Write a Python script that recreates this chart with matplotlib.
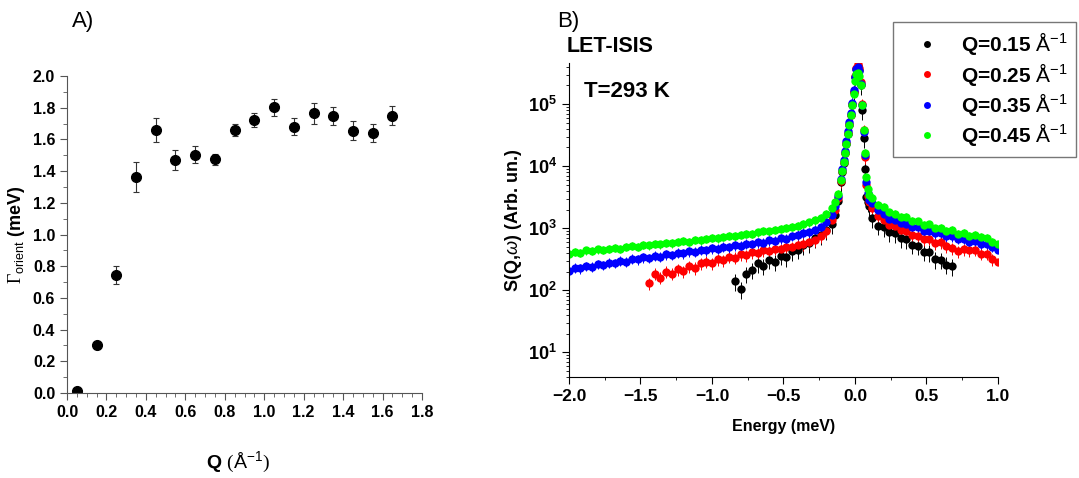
import numpy as np
import matplotlib
matplotlib.use("Agg")
import matplotlib.pyplot as plt
from matplotlib.ticker import MultipleLocator, LogLocator, NullFormatter
from matplotlib.lines import Line2D

plt.rcParams['font.family'] = ['Liberation Sans', 'DejaVu Sans']
plt.rcParams['mathtext.fontset'] = 'custom'
plt.rcParams['mathtext.rm'] = 'Liberation Serif'
plt.rcParams['mathtext.sf'] = 'Liberation Sans'
plt.rcParams['mathtext.bf'] = 'Liberation Sans:bold'
plt.rcParams['mathtext.it'] = 'Liberation Sans:italic'

# ---- panel A: orientational linewidth vs Q ----
q_vals = [0.05, 0.15, 0.25, 0.35, 0.45, 0.55, 0.65, 0.75, 0.85,
          0.95, 1.05, 1.15, 1.25, 1.35, 1.45, 1.55, 1.65]
gamma_orient = [0.01, 0.30, 0.744, 1.363, 1.66, 1.47, 1.503, 1.474, 1.66,
                1.723, 1.803, 1.681, 1.765, 1.748, 1.654, 1.639, 1.75]
gamma_err = [0.01, 0.02, 0.055, 0.092, 0.075, 0.06, 0.055, 0.034, 0.037,
             0.046, 0.055, 0.052, 0.065, 0.057, 0.06, 0.058, 0.062]

# ---- panel B: S(Q,w) spectra, LET-ISIS, T=293 K ----
e_left = [-2.00, -1.96, -1.92, -1.88, -1.84, -1.80, -1.76, -1.72, -1.68, -1.64,
          -1.60, -1.56, -1.52, -1.48, -1.44, -1.40, -1.36, -1.32, -1.28, -1.24,
          -1.20, -1.16, -1.12, -1.08, -1.04, -1.00, -0.96, -0.92, -0.88, -0.84,
          -0.80, -0.76, -0.72, -0.68, -0.64, -0.60, -0.56, -0.52, -0.48, -0.44,
          -0.40, -0.36, -0.32, -0.28, -0.24, -0.20, -0.16]
e_peak = [-0.14, -0.12, -0.10, -0.09, -0.08, -0.07, -0.06, -0.05, -0.04, -0.03,
          -0.02, -0.01, 0.00, 0.01, 0.02, 0.03, 0.04, 0.05, 0.06, 0.07,
          0.08, 0.09, 0.10]
e_right = [0.12, 0.16, 0.20, 0.24, 0.28, 0.32, 0.36, 0.40, 0.44, 0.48, 0.52,
           0.56, 0.60, 0.64, 0.68, 0.72, 0.76, 0.80, 0.84, 0.88, 0.92, 0.96, 1.00]

# Q = 0.15 (starts at -0.84, ends at 0.68)
s015_left = [140, 105, 185, 215, 270, 250, 310, 290, 360, 340, 430, 450, 530,
             580, 690, 770, 920, 1150]
s015_peak = [1660, 2750, 5500, 7940, 11200, 16200, 22900, 33100, 46800, 66100,
             97700, 155000, 275000, 372000, 407000, 355000, 200000, 79400,
             28200, 8910, 3160, 2630, 2240]
s015_right = [1450, 1100, 1040, 860, 830, 690, 660, 540, 520, 420, 410, 320,
              310, 260, 245]

# Q = 0.25 (starts at -1.44)
s025_left = [130, 185, 160, 200, 185, 220, 205, 245, 230, 270, 290, 275, 320,
             305, 350, 335, 380, 365, 410, 395, 440, 425, 470, 455, 500, 490,
             540, 560, 610, 640, 740, 900, 1350]
s025_peak = [2000, 3020, 5750, 8320, 11700, 16600, 23400, 33900, 47900, 67600,
             100000, 158000, 288000, 389000, 437000, 380000, 229000, 100000,
             38000, 14100, 5010, 3310, 2630]
s025_right = [2140, 1600, 1360, 1120, 1080, 930, 910, 770, 760, 670, 680, 580,
              590, 510, 480, 430, 460, 440, 450, 390, 390, 320, 290]

# Q = 0.35
s035_left = [205, 230, 225, 245, 240, 265, 255, 280, 275, 300, 290, 325, 315,
             340, 330, 360, 350, 380, 370, 400, 395, 425, 415, 450, 440, 475,
             465, 500, 490, 530, 520, 560, 550, 595, 585, 635, 625, 690, 680,
             745, 780, 840, 860, 940, 1030, 1250, 1650]
s035_peak = [2240, 3310, 6310, 8910, 12600, 17800, 25100, 36300, 51300, 72400,
             104700, 166000, 275000, 363000, 398000, 347000, 214000, 95500,
             35500, 15100, 5620, 3630, 2880]
s035_right = [2510, 1950, 1700, 1420, 1350, 1200, 1180, 1040, 1030, 900, 910,
              830, 830, 740, 740, 670, 680, 610, 620, 560, 560, 500, 440]

# Q = 0.45
s045_left = [390, 420, 405, 440, 430, 455, 445, 470, 480, 465, 500, 515, 505,
             540, 530, 560, 550, 585, 575, 600, 620, 610, 650, 640, 680, 700,
             690, 735, 760, 745, 790, 820, 810, 860, 900, 890, 940, 980, 1010,
             1060, 1100, 1160, 1240, 1350, 1480, 1700, 2100]
s045_peak = [2630, 3550, 5890, 8320, 11500, 16200, 22900, 33100, 46800, 66100,
             95500, 148000, 240000, 302000, 316000, 288000, 200000, 95500,
             38000, 16600, 6610, 4270, 3390]
s045_right = [3020, 2400, 2200, 1800, 1700, 1520, 1520, 1300, 1290, 1120, 1150,
              990, 1010, 900, 940, 810, 840, 760, 790, 720, 700, 610, 560]

# relative error of each spectrum
rel_err = [0.3, 0.22, 0.18, 0.15]

series_labels = ['0.15', '0.25', '0.35', '0.45']
series_colors = ['black', '#ff0000', '#0000ff', '#00ff00']

spectra = [
    (e_left[-len(s015_left):] + e_peak + e_right[:len(s015_right)],
     s015_left + s015_peak + s015_right),
    (e_left[-len(s025_left):] + e_peak + e_right, s025_left + s025_peak + s025_right),
    (e_left + e_peak + e_right, s035_left + s035_peak + s035_right),
    (e_left + e_peak + e_right, s045_left + s045_peak + s045_right),
]

fig = plt.figure(figsize=(10.79, 4.78), dpi=100)

# ---------------- panel A ----------------
axA = fig.add_axes([0.0621, 0.1778, 0.329, 0.6632])
axA.errorbar(q_vals, gamma_orient, yerr=gamma_err, fmt='o', color='black',
             ms=7, ecolor='#333333', elinewidth=0.8, capsize=2.5, capthick=0.8)
axA.set_xlim(0, 1.8)
axA.set_ylim(0, 2.0)
axA.xaxis.set_major_locator(MultipleLocator(0.2))
axA.xaxis.set_minor_locator(MultipleLocator(0.05))
axA.yaxis.set_major_locator(MultipleLocator(0.2))
axA.yaxis.set_minor_locator(MultipleLocator(0.1))
for s in ['top', 'right']:
    axA.spines[s].set_visible(False)
axA.spines['left'].set_color('#555555')
axA.spines['bottom'].set_color('#555555')
axA.tick_params(which='both', direction='out', color='#555555')
axA.tick_params(which='major', length=5, labelsize=11.5)
axA.tick_params(which='minor', length=3)
for lab in axA.get_xticklabels() + axA.get_yticklabels():
    lab.set_fontweight('bold')
axA.set_ylabel(r'$\mathrm{\Gamma}_{\mathsf{orient}}$ (meV)', fontsize=13,
               fontweight='bold', labelpad=4)
fig.text(0.221, 0.033, r'$\mathbf{Q}$ $(\mathsf{Å^{-1}})$', fontsize=14,
         ha='center', va='center')
fig.text(0.067, 0.955, 'A)', fontsize=16, ha='left', va='center')

# ---------------- panel B ----------------
axB = fig.add_axes([0.5273, 0.2113, 0.3976, 0.6569])
handles = []
for (en, sv), lab, col, re in zip(spectra, series_labels, series_colors, rel_err):
    en = np.array(en)
    sv = np.array(sv, dtype=float)
    axB.errorbar(en, sv, yerr=re * sv, fmt='o', color=col, ms=6, mew=0,
                 elinewidth=0.7, capsize=2, capthick=0.6)
    handles.append(Line2D([], [], ls='none', marker='o', ms=5, mew=0, color=col,
                          label=r'Q=%s $\mathsf{Å^{-1}}$' % lab))
axB.set_yscale('log')
axB.set_xlim(-2.0, 1.0)
axB.set_ylim(4, 4.6e5)
axB.xaxis.set_major_locator(MultipleLocator(0.5))
axB.xaxis.set_minor_locator(MultipleLocator(0.25))
axB.yaxis.set_major_locator(LogLocator(base=10, numticks=10))
axB.yaxis.set_minor_locator(LogLocator(base=10, subs=np.arange(2, 10), numticks=10))
axB.yaxis.set_minor_formatter(NullFormatter())
for s in ['top', 'right']:
    axB.spines[s].set_visible(False)
axB.tick_params(which='both', direction='out')
axB.tick_params(which='major', length=5)
axB.tick_params(which='minor', length=2.5)
axB.tick_params(axis='x', labelsize=12.5)
axB.tick_params(axis='y', labelsize=13)
for lab in axB.get_xticklabels() + axB.get_yticklabels():
    lab.set_fontweight('bold')
axB.set_xlabel('Energy (meV)', fontsize=11.5, fontweight='bold', labelpad=11)
axB.set_ylabel(r'S(Q,$\omega$) (Arb. un.)', fontsize=13, fontweight='bold',
               labelpad=3)
fig.text(0.516, 0.955, 'B)', fontsize=16, ha='left', va='center')
fig.text(0.525, 0.903, 'LET-ISIS', fontsize=15.5, fontweight='bold', ha='left',
         va='center')
axB.text(0.035, 0.91, 'T=293 K', transform=axB.transAxes, fontsize=16,
         fontweight='bold', ha='left', va='center')

leg = axB.legend(handles=handles, loc='upper right',
                 bbox_to_anchor=(1076 / 1079, 1 - 22 / 478),
                 bbox_transform=fig.transFigure, frameon=True,
                 prop={'size': 15, 'weight': 'bold'}, borderaxespad=0,
                 fancybox=False, edgecolor='#555555', handlelength=2.5,
                 handletextpad=0.35, borderpad=0.4, labelspacing=0.16)
leg.get_frame().set_linewidth(1.0)

fig.savefig('out.png', dpi=100)
